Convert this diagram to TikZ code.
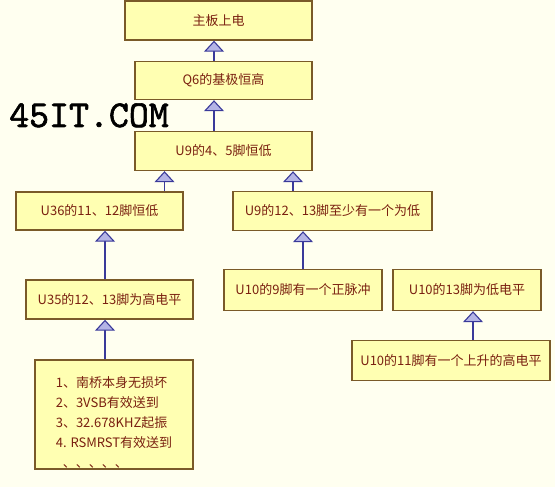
\documentclass[tikz,border=0pt]{standalone}
\usepackage{fontspec}
\usepackage{xcolor}
\usepackage{tikz}
\usetikzlibrary{arrows.meta,positioning}
\newfontfamily\cjk{Noto Sans CJK SC}
\newfontfamily\wmfont{lmmono10-regular.otf}[FakeBold=1.6]
\definecolor{bgcream}{HTML}{FFFFF0}
\definecolor{boxfill}{HTML}{FFFFB2}
\definecolor{boxline}{HTML}{7A5A28}
\definecolor{boxtext}{HTML}{7A2010}
\definecolor{arrline}{HTML}{3A3A9A}
\definecolor{tipfill}{HTML}{B4B4E6}
\tikzset{%
flowbox/.style={draw=boxline, fill=boxfill, line width=1.4pt, text=boxtext, inner sep=0pt,
  font=\cjk\fontsize{13}{16}\selectfont},
upline/.style={draw=arrline, line width=1.1pt, -{Triangle[width=20pt,length=11pt,fill=tipfill]}}
}
\begin{document}
\begin{tikzpicture}[x=1pt,y=-1pt,node distance=60pt]
		\fill[bgcream] (0,0) rectangle (555,487);
		\useasboundingbox (0,0) rectangle (555,487);
		\node[anchor=base west, inner sep=0pt, font=\wmfont\fontsize{38}{38}\selectfont] (mark) at (9,127) {45IT.COM};

		\node[flowbox, minimum width=187pt, minimum height=39pt] (power) at (218.5,20.5) {主板上电};
		\node[flowbox, minimum width=177pt, minimum height=38pt] (q6) [below of=power, xshift=5pt] {Q6的基极恒高};
		\node[flowbox, minimum width=177pt, minimum height=39pt] (u9a) [below of=q6, yshift=-10.5pt] {U9的4、5脚恒低};
		\node[flowbox, minimum width=167pt, minimum height=38pt] (u36) [below of=u9a, xshift=-124pt] {U36的11、12脚恒低};
		\node[flowbox, minimum width=199pt, minimum height=39pt] (u9b) [below of=u9a, xshift=109pt] {U9的12、13脚至少有一个为低};
		\node[flowbox, minimum width=167pt, minimum height=39pt] (u35) [below of=u36, xshift=10pt, yshift=-28.5pt] {U35的12、13脚为高电平};
		\node[flowbox, minimum width=158pt, minimum height=109pt, align=left,
		      font=\cjk\fontsize{13}{20}\selectfont] (south) [below of=u35, xshift=4.5pt, yshift=-55pt]
		      {\rule{0pt}{27pt}1、南桥本身无损坏\\2、3VSB有效送到\\3、32.678KHZ起振\\4. RSMRST有效送到\\\hspace{7pt}、、、、、};
		\node[flowbox, minimum width=158pt, minimum height=41pt] (u10a) [below of=u9b, xshift=-29.5pt, yshift=-19pt] {U10的9脚有一个正脉冲};
		\node[flowbox, minimum width=148pt, minimum height=41pt] (u10b) [right of=u10a, xshift=104pt] {U10的13脚为低电平};
		\node[flowbox, minimum width=198pt, minimum height=40pt] (u10c) [below of=u10b, xshift=-16pt, yshift=-10.5pt] {U10的11脚有一个上升的高电平};

		\draw[upline] ([xshift=-9.5pt]q6.north) -- ([xshift=-9.5pt]q6.north |- power.south);
		\draw[upline] ([xshift=-9.5pt]u9a.north) -- ([xshift=-9.5pt]u9a.north |- q6.south);
		\draw[upline] ([xshift=65pt]u36.north) -- ([xshift=65pt]u36.north |- u9a.south);
		\draw[upline] ([xshift=-39.5pt]u9b.north) -- ([xshift=-39.5pt]u9b.north |- u9a.south);
		\draw[upline] ([xshift=-4.5pt]u35.north) -- ([xshift=-4.5pt]u35.north |- u36.south);
		\draw[upline] (u10a.north) -- (u10a.north |- u9b.south);
		\draw[upline] ([xshift=-9pt]south.north) -- ([xshift=-9pt]south.north |- u35.south);
		\draw[upline] ([xshift=22pt]u10c.north) -- ([xshift=22pt]u10c.north |- u10b.south);
	\end{tikzpicture}
\end{document}
